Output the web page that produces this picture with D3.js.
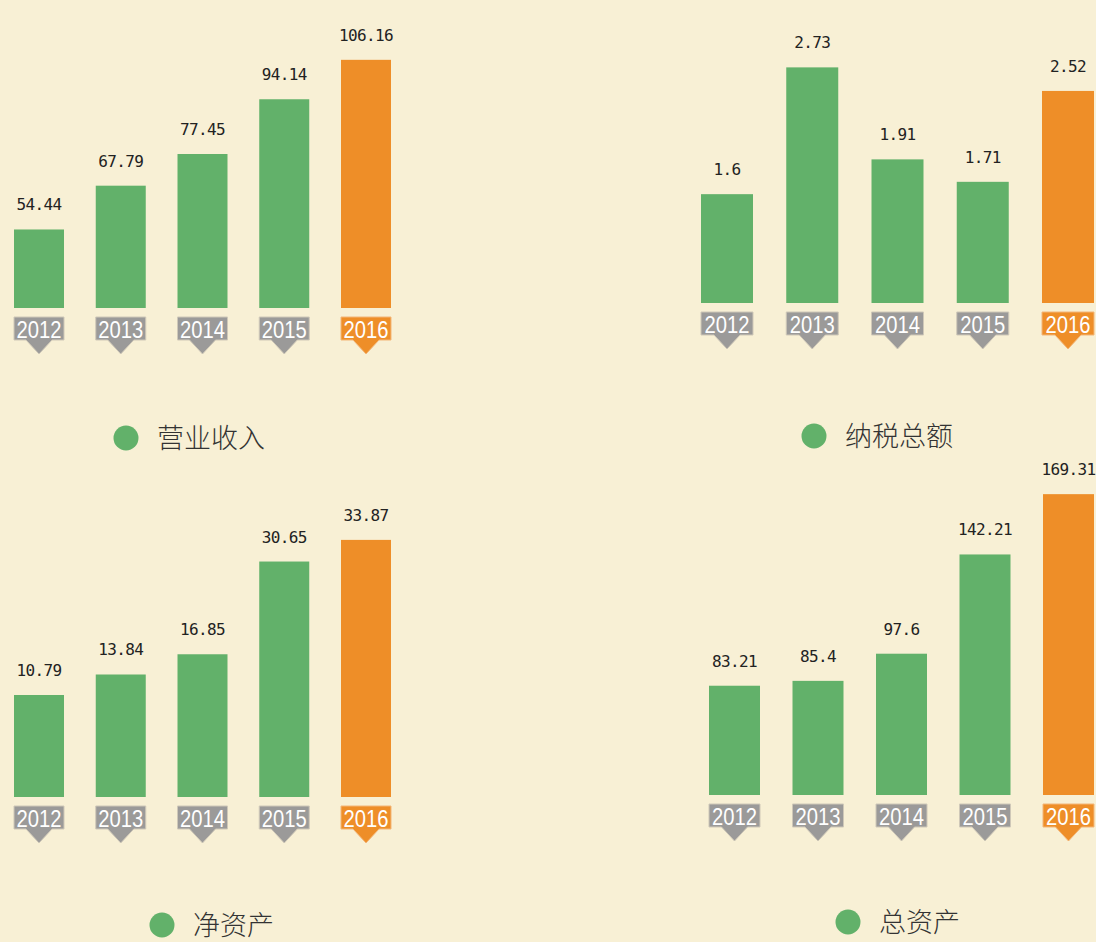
<!DOCTYPE html>
<html lang="zh">

<head>
    <meta charset="UTF-8">
    <title>Chart</title>
    <script src="https://cdn.jsdelivr.net/npm/d3@7"></script>
    <style>
        body {
            margin: 0;
            background-color: #f8f0d5;
        }

        svg {
            display: block;
        }
    </style>
</head>

<body>
    <script>
        const years = ["2012", "2013", "2014", "2015", "2016"];
        const highlightYear = "2016";
        const revenue = [54.44, 67.79, 77.45, 94.14, 106.16];
        const taxPaid = [1.6, 2.73, 1.91, 1.71, 2.52];
        const netAssets = [10.79, 13.84, 16.85, 30.65, 33.87];
        const totalAssets = [83.21, 85.4, 97.6, 142.21, 169.31];
        const titles = ["营业收入", "纳税总额", "净资产", "总资产"];

        const width = 1096;
        const height = 942;
        const green = "#62b16a";
        const orange = "#ee8e28";
        const grey = "#9b9a99";

        // layout of each small chart (bars don't start at zero in the original)
        const panels = [
            { values: revenue, title: titles[0], x0: 14, step: 81.75, barW: 50, base: 308, lo: 30.5, k: 3.28, legendX: 126, legendY: 438 },
            { values: taxPaid, title: titles[1], x0: 701, step: 85.25, barW: 52, base: 303, lo: 0.63, k: 112.2, legendX: 814, legendY: 436 },
            { values: netAssets, title: titles[2], x0: 14, step: 81.75, barW: 50, base: 797, lo: -4.39, k: 6.72, legendX: 162, legendY: 925 },
            { values: totalAssets, title: titles[3], x0: 709, step: 83.5, barW: 51, base: 795, lo: 34.1, k: 2.225, legendX: 848, legendY: 922 },
        ];

        const svg = d3.select("body").append("svg")
            .attr("width", width)
            .attr("height", height);

        panels.forEach(p => {
            const data = years.map((y, i) => ({ year: y, value: p.values[i] }));
            const maxV = d3.max(p.values);

            const x = d3.scaleBand()
                .domain(years)
                .range([p.x0, p.x0 + 4 * p.step + p.barW])
                .paddingInner(1 - p.barW / p.step)
                .paddingOuter(0);

            const y = d3.scaleLinear()
                .domain([p.lo, maxV])
                .range([p.base, p.base - p.k * (maxV - p.lo)]);

            const g = svg.append("g");
            const color = d => d.year === highlightYear ? orange : green;

            g.selectAll("rect.bar")
                .data(data)
                .join("rect")
                .attr("class", "bar")
                .attr("x", d => x(d.year))
                .attr("y", d => y(d.value))
                .attr("width", x.bandwidth())
                .attr("height", d => p.base - y(d.value))
                .attr("fill", color);

            g.selectAll("text.val")
                .data(data)
                .join("text")
                .attr("class", "val")
                .attr("x", d => x(d.year) + x.bandwidth() / 2)
                .attr("y", d => y(d.value) - 19)
                .attr("text-anchor", "middle")
                .attr("font-family", "DejaVu Sans Mono, monospace")
                .attr("font-size", 16)
                .attr("letter-spacing", -0.6)
                .attr("fill", "#222")
                .text(d => d.value);

            // year tags: box with a small arrow underneath
            const tagTop = p.base + 9;
            const tagH = 23;
            const tag = g.selectAll("g.tag")
                .data(data)
                .join("g")
                .attr("class", "tag")
                .attr("transform", d => `translate(${x(d.year) + x.bandwidth() / 2},${tagTop})`);

            tag.append("path")
                .attr("d", d3.line()([[-x.bandwidth() / 2, 0], [x.bandwidth() / 2, 0], [x.bandwidth() / 2, tagH],
                    [13, tagH], [0, tagH + 14], [-13, tagH], [-x.bandwidth() / 2, tagH]]) + "Z")
                .attr("fill", d => d.year === highlightYear ? orange : grey)
                .attr("stroke", d => d.year === highlightYear ? "#f3b678" : "#cfc8b8")
                .attr("stroke-width", 1);

            tag.append("text")
                .attr("x", 0)
                .attr("y", tagH - 2.5)
                .attr("text-anchor", "middle")
                .attr("font-family", "Liberation Sans, Arial, sans-serif")
                .attr("font-size", 23)
                .attr("textLength", 45)
                .attr("lengthAdjust", "spacingAndGlyphs")
                .attr("fill", "#fff")
                .text(d => d.year);

            // legend
            g.append("circle")
                .attr("cx", p.legendX)
                .attr("cy", p.legendY)
                .attr("r", 12.5)
                .attr("fill", green);

            g.append("text")
                .attr("x", p.legendX + 31)
                .attr("y", p.legendY)
                .attr("dy", "0.36em")
                .attr("font-family", "Noto Sans CJK SC, sans-serif")
                .attr("font-weight", 300)
                .attr("font-size", 27)
                .attr("fill", "#333")
                .text(p.title);
        });
    </script>
</body>

</html>
